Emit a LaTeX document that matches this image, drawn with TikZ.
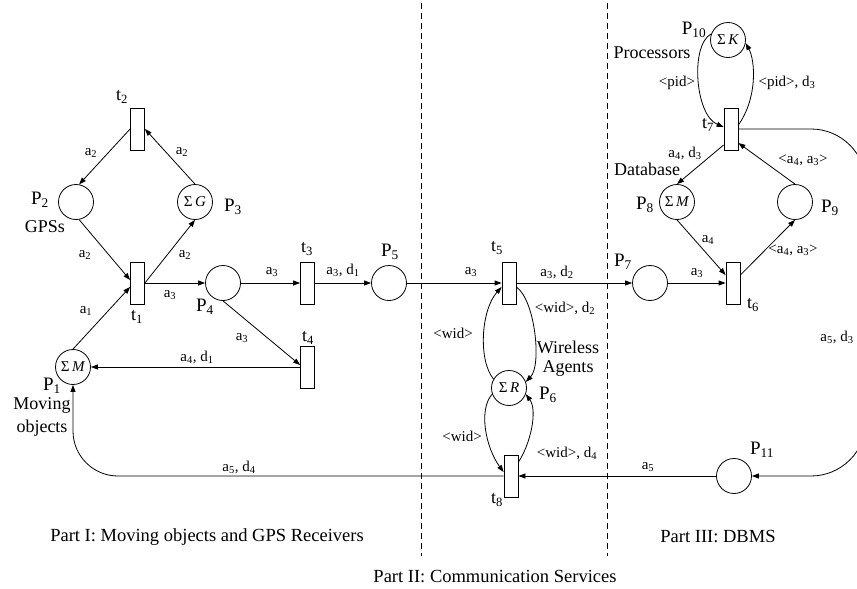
\documentclass[tikz,border=0pt]{standalone}
\usepackage{fontspec}
\setmainfont{Liberation Serif}
\usetikzlibrary{arrows.meta}
\newcommand\sigmark[1]{{\fontsize{15}{15}\selectfont Σ\,\textit{#1}}}
\begin{document}
\begin{tikzpicture}[x=1pt,y=-1pt,
  place/.style={circle, draw, line width=0.8pt, minimum size=35pt, inner sep=0pt},
  trans/.style={rectangle, draw, line width=0.8pt, minimum width=14pt, minimum height=42pt, inner sep=0pt},
  arc/.style={line width=0.8pt, -{Triangle[length=7pt,width=5pt]}},
  lbl/.style={font=\fontsize{15}{16}\selectfont, inner sep=0pt},
  big/.style={font=\fontsize{19}{20}\selectfont, inner sep=0pt},
  word/.style={font=\fontsize{18}{19}\selectfont, inner sep=0pt},
  part/.style={font=\fontsize{18.5}{20}\selectfont, inner sep=0pt},
  sep/.style={line width=0.8pt, dash pattern=on 6pt off 4pt}]
\useasboundingbox (0,0) rectangle (857,589);

% separators
\coordinate (s1a) at (421,3); \coordinate (s1b) at (421,556);
\coordinate (s2a) at (607,3); \coordinate (s2b) at (607,556);
\draw[sep] (s1a) -- (s1b);
\draw[sep] (s2a) -- (s2b);

% places and transitions
\node[trans] (t2) at (137.5,129) {};
\node[place] (P2) at (76,202) {};
\node[place] (P3) at (195,202) {\sigmark{G}};
\node[trans] (t1) at (137.5,283) {};
\node[place] (P1) at (73,367) {\sigmark{M}};
\node[place] (P4) at (223,283) {};
\node[trans] (t3) at (307.5,283) {};
\node[trans] (t4) at (307.5,367) {};
\node[place] (P5) at (389,283) {};
\node[trans] (t5) at (509,283) {};
\node[place] (P6) at (509,388) {\sigmark{R}};
\node[trans] (t8) at (511,476) {};
\node[place] (P7) at (650,283) {};
\node[trans] (t6) at (733,283) {};
\node[place] (P8) at (677,202) {\sigmark{M}};
\node[place] (P9) at (795,202) {};
\node[trans] (t7) at (731,129) {};
\node[place] (P10) at (728,40) {\sigmark{K}};
\node[place] (P11) at (734,476) {};

% arcs, part I
\draw[arc] (t2.west) -- (P2.80);
\draw[arc] (P3.north) -- (t2.east);
\draw[arc] (P2.-80) -- ([yshift=3pt]t1.west);
\draw[arc] (P1.north) -- ([yshift=-4pt]t1.west);
\draw[arc] (t1.east) -- (P3.south);
\draw[arc] (t1.east) -- (P4.west);
\draw[arc] (P4.east) -- (t3.west);
\draw[arc] (P4.south) -- ([yshift=2pt]t4.west);
\draw[arc] (t4.west) -- (P1.east);
\draw[arc] (t3.east) -- (P5.west);
\draw[arc] (P5.east) -- (t5.west);
% part II / III
\draw[arc] (t5.east) -- (P7.west);
\draw[arc] (P7.east) -- (t6.west);
\draw[arc] (P8.south) -- ([yshift=8pt]t6.west);
\draw[arc] ([yshift=8pt]t6.east) -- (P9.south);
\draw[arc] (P9.north) -- ([yshift=-14pt]t7.east);
\draw[arc] ([yshift=-16pt]t7.west) -- (P8.north);
\draw[arc] (P10.160) .. controls (690,45) and (695,115) .. ([yshift=2pt]t7.west);
\draw[arc] ([yshift=4pt]t7.east) .. controls (758,97) and (755,60) .. (P10.-10);
\draw[arc] (P6.150) .. controls (478,360) and (481,310) .. ([yshift=-4pt]t5.west);
\draw[arc] ([yshift=-4pt]t5.east) .. controls (535,300) and (542,365) .. (P6.20);
\draw[arc] (P6.-160) .. controls (478,410) and (486,448) .. ([yshift=4pt]t8.west);
\draw[arc] ([yshift=14pt]t8.east) .. controls (530,445) and (538,411) .. (P6.-20);
\draw[arc] (P11.west) -- (t8.east);
\draw[arc, rounded corners=45pt] (t8.west) -- (73,476) -- (P1.south);
\draw[arc, rounded corners=55pt] (t7.east) -- (866,129) -- (866,476) -- (P11.east);

% node labels
\node[word] (lt2) at (122,97) {t\textsubscript{2}};
\node[big] (lP2) at (40,200) {P\textsubscript{2}};
\node[word] (lgps) at (45,227) {GPSs};
\node[big] (lP3) at (233,207) {P\textsubscript{3}};
\node[big] (lP1) at (52,386) {P\textsubscript{1}};
\node[word] (lmov) at (42,405) {Moving};
\node[word] (lobj) at (42,428) {objects};
\node[word] (lt1) at (137,317) {t\textsubscript{1}};
\node[big] (lP4) at (205,307) {P\textsubscript{4}};
\node[word] (lt3) at (307,249) {t\textsubscript{3}};
\node[word] (lt4) at (308,338) {t\textsubscript{4}};
\node[big] (lP5) at (390,252) {P\textsubscript{5}};
\node[word] (lt5) at (497,248) {t\textsubscript{5}};
\node[big] (lP6) at (548,395) {P\textsubscript{6}};
\node[word] (lwir) at (568,347) {Wireless};
\node[word] (lage) at (568,368) {Agents};
\node[word] (lt8) at (497,500) {t\textsubscript{8}};
\node[big] (lP7) at (623,262) {P\textsubscript{7}};
\node[word] (lt6) at (753,305) {t\textsubscript{6}};
\node[big] (lP8) at (645,205) {P\textsubscript{8}};
\node[big] (lP9) at (830,208) {P\textsubscript{9}};
\node[word] (lt7) at (708,125) {t\textsubscript{7}};
\node[big] (lP10) at (694,30) {P\textsubscript{10}};
\node[word] (lproc) at (652,53) {Processors};
\node[word] (ldb) at (647,169) {Database};
\node[big] (lP11) at (762,450) {P\textsubscript{11}};

% arc labels
\node[lbl] (a1) at (91,153) {a\textsubscript{2}};
\node[lbl] (a2) at (182,152) {a\textsubscript{2}};
\node[lbl] (a3) at (85,255) {a\textsubscript{2}};
\node[lbl] (a4) at (185,255) {a\textsubscript{2}};
\node[lbl] (a5) at (86,311) {a\textsubscript{1}};
\node[lbl] (a6) at (170,295) {a\textsubscript{3}};
\node[lbl] (a7) at (272,272) {a\textsubscript{3}};
\node[lbl] (a8) at (242,338) {a\textsubscript{3}};
\node[lbl] (a9) at (197,357) {a\textsubscript{4}, d\textsubscript{1}};
\node[lbl] (a10) at (343,270) {a\textsubscript{3}, d\textsubscript{1}};
\node[lbl] (a11) at (471,272) {a\textsubscript{3}};
\node[lbl] (a12) at (557,272) {a\textsubscript{3}, d\textsubscript{2}};
\node[lbl] (a13) at (565,308) {<wid>, d\textsubscript{2}};
\node[lbl] (a14) at (453,333) {<wid>};
\node[lbl] (a15) at (462,436) {<wid>};
\node[lbl] (a16) at (567,453) {<wid>, d\textsubscript{4}};
\node[lbl] (a17) at (648,467) {a\textsubscript{5}};
\node[lbl] (a18) at (239,467) {a\textsubscript{5}, d\textsubscript{4}};
\node[lbl] (a19) at (697,273) {a\textsubscript{3}};
\node[lbl] (a20) at (708,240) {a\textsubscript{4}};
\node[lbl] (a21) at (793,250) {<a\textsubscript{4}, a\textsubscript{3}>};
\node[lbl] (a22) at (803,160) {<a\textsubscript{4}, a\textsubscript{3}>};
\node[lbl] (a23) at (685,153) {a\textsubscript{4}, d\textsubscript{3}};
\node[lbl] (a24) at (677,83) {<pid>};
\node[lbl] (a25) at (787,83) {<pid>, d\textsubscript{3}};
\node[lbl] (a26) at (837,337) {a\textsubscript{5}, d\textsubscript{3}};

% part captions
\node[part] (part1) at (207,537) {Part I: Moving objects and GPS Receivers};
\node[part] (part2) at (495,577) {Part II: Communication Services};
\node[part] (part3) at (718,537) {Part III: DBMS};
\end{tikzpicture}
\end{document}
